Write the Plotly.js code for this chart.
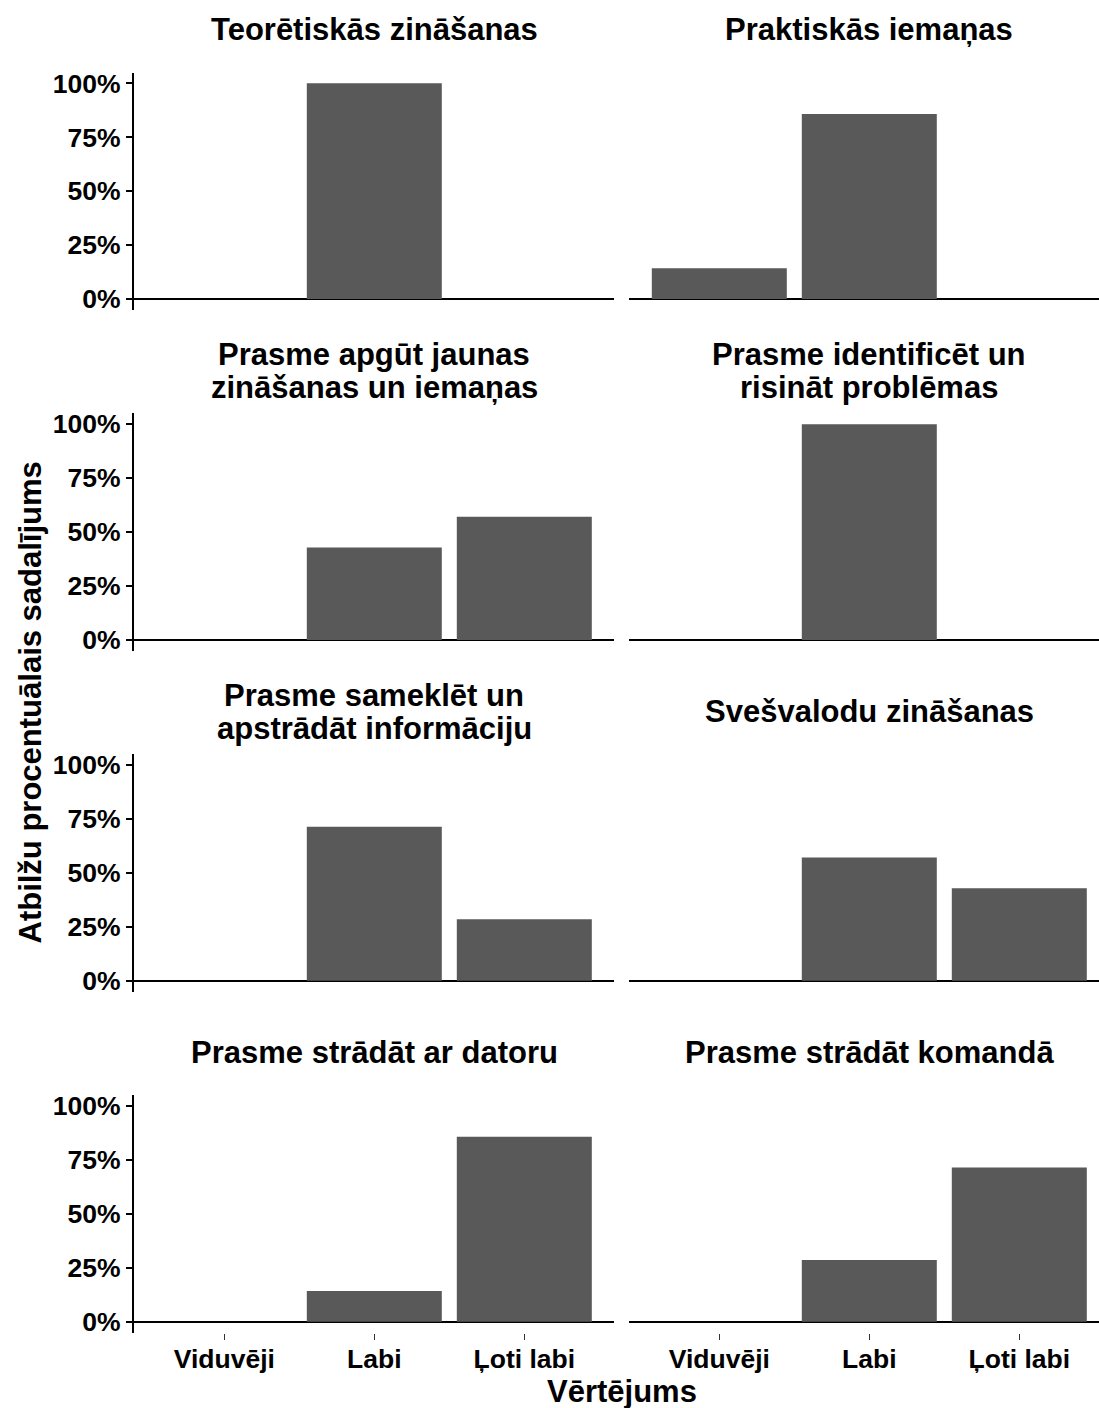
<!DOCTYPE html>
<html><head><meta charset="utf-8">
<script src="https://cdn.plot.ly/plotly-3.0.1.min.js"></script>
<style>html,body{margin:0;padding:0;background:#fff}#chart{width:1099px;height:1408px}</style>
</head><body><div id="chart"></div><script>
// ---- data ----
const categories = ['Viduvēji', 'Labi', 'Ļoti labi'];
const panelTitles = [
  'Teorētiskās zināšanas',
  'Praktiskās iemaņas',
  'Prasme apgūt jaunas\nzināšanas un iemaņas',
  'Prasme identificēt un\nrisināt problēmas',
  'Prasme sameklēt un\napstrādāt informāciju',
  'Svešvalodu zināšanas',
  'Prasme strādāt ar datoru',
  'Prasme strādāt komandā'
];
const teoretiskas = [0, 100, 0];
const praktiskas = [14.29, 85.71, 0];
const apgut = [0, 42.86, 57.14];
const identificet = [0, 100, 0];
const sameklet = [0, 71.43, 28.57];
const svesvalodu = [0, 57.14, 42.86];
const dators = [0, 14.29, 85.71];
const komanda = [0, 28.57, 71.43];
const yTickValues = [0, 25, 50, 75, 100];
const yTickLabels = ['0%', '25%', '50%', '75%', '100%'];
const xTitle = 'Vērtējums';
const yTitle = 'Atbilžu procentuālais sadalījums';

const seriesList = [teoretiskas, praktiskas, apgut, identificet, sameklet, svesvalodu, dators, komanda];

// ---- layout helpers ----
const W = 1099, H = 1408;
const FONT = 'Liberation Sans, Arial, Helvetica, sans-serif';
const unitPx = 150;
const colX = [[134.3, 134.3 + 3.2 * unitPx], [629.3, W]];
const data = [];
const layout = {
  width: W, height: H,
  margin: {l: 0, r: 0, t: 0, b: 0},
  showlegend: false,
  paper_bgcolor: '#ffffff',
  plot_bgcolor: 'rgba(0,0,0,0)',
  annotations: [],
  font: {family: FONT, color: '#000'}
};
const py = px => 1 - px / H;
const pxx = px => px / W;

for (let i = 0; i < seriesList.length; i++) {
  const row = Math.floor(i / 2), col = i % 2;
  const idx = i + 1;
  const xn = idx === 1 ? 'x' : 'x' + idx;
  const yn = idx === 1 ? 'y' : 'y' + idx;
  const zero = 299 + 340.9 * row;
  const top = zero - 226.5, bottom = zero + 10.8;
  const [x0, x1] = colX[col];

  data.push({
    type: 'bar', x: categories, y: seriesList[i],
    xaxis: xn, yaxis: yn, width: 0.9,
    marker: {color: '#595959', line: {width: 0}},
    hoverinfo: 'skip'
  });

  layout['xaxis' + (idx === 1 ? '' : idx)] = {
    domain: [pxx(x0), pxx(x1)], anchor: yn,
    type: 'category', categoryorder: 'array', categoryarray: categories,
    range: [-0.6, -0.6 + (x1 - x0) / unitPx],
    showgrid: false, zeroline: false, showline: false,
    ticks: row === 3 ? 'outside' : '', ticklen: 6, tickwidth: 1.5, tickcolor: '#333',
    ticklabelstandoff: -3,
    showticklabels: row === 3,
    tickfont: {family: FONT, size: 26.5, color: '#000', weight: 'bold'},
    fixedrange: true
  };
  layout['yaxis' + (idx === 1 ? '' : idx)] = {
    domain: [py(bottom), py(top)], anchor: xn,
    range: [-5, 105],
    tickmode: 'array', tickvals: yTickValues, ticktext: yTickLabels,
    showticklabels: col === 0,
    ticks: col === 0 ? 'outside' : '', ticklen: 6.5, tickwidth: 2, tickcolor: '#000',
    showline: col === 0, linewidth: 2, linecolor: '#000',
    showgrid: false,
    zeroline: true, zerolinecolor: '#000', zerolinewidth: 2,
    tickfont: {family: FONT, size: 26.5, color: '#000', weight: 'bold'},
    fixedrange: true
  };

  // strip title lines
  const lines = panelTitles[i].split('\n');
  const cx = (x0 + colX[col][0] + 3.2 * unitPx) / 2;
  const centers = lines.length === 2 ? [top - 59.2, top - 26.2] : [top - 42.7];
  lines.forEach((t, k) => {
    layout.annotations.push({
      text: t, xref: 'paper', yref: 'paper',
      x: pxx(cx), y: py(centers[k]), xanchor: 'center', yanchor: 'middle',
      showarrow: false,
      font: {family: FONT, size: 31, color: '#000', weight: 'bold'}
    });
  });
}

layout.annotations.push({
  text: xTitle, xref: 'paper', yref: 'paper',
  x: pxx(621.5), y: py(1391), xanchor: 'center', yanchor: 'middle', showarrow: false,
  font: {family: FONT, size: 31, color: '#000', weight: 'bold'}
});
layout.annotations.push({
  text: yTitle, xref: 'paper', yref: 'paper', textangle: -90,
  x: pxx(30), y: py(702.5), xanchor: 'center', yanchor: 'middle', showarrow: false,
  font: {family: FONT, size: 31, color: '#000', weight: 'bold'}
});

Plotly.newPlot('chart', data, layout, {displayModeBar: false, staticPlot: true});
</script></body></html>
